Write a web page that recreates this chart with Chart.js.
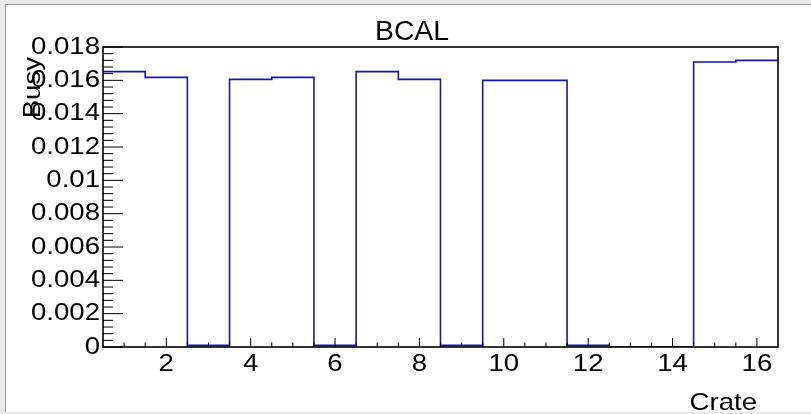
<!DOCTYPE html>
<html>
<head>
<meta charset="utf-8">
<script src="https://cdn.jsdelivr.net/npm/chart.js@4.4.0/dist/chart.umd.min.js"></script>
<style>
  html, body { margin: 0; padding: 0; background: #e9e9e9; width: 811px; height: 414px; overflow: hidden; }
  #box { position: absolute; left: 5px; top: 4px; width: 806px; height: 407px; background: #fff;
         border-left: 1px solid #9c9c9c; border-top: 1px solid #9c9c9c; }
  canvas { display: block; }
</style>
</head>
<body>
<div id="box"><canvas id="myChart" width="806" height="407"></canvas></div>
<script>
// busy fraction per crate (bins centred on 1..16)
const crates = [1, 2, 3, 4, 5, 6, 7, 8, 9, 10, 11, 12, 13, 14, 15, 16];
const busy = [0.01652, 0.01618, 0.0001, 0.01606, 0.01618, 0.0001, 0.01652, 0.01606,
              0.0001, 0.0160, 0.0160, 0.0001, 0, 0, 0.01710, 0.01720];
const xTicks = [2, 4, 6, 8, 10, 12, 14, 16];
const yTicks = [0, 0.002, 0.004, 0.006, 0.008, 0.01, 0.012, 0.014, 0.016, 0.018];

const FONT = '"Liberation Sans", Arial, Helvetica, sans-serif';
const STRETCH = 1.15; // ROOT text comes out a bit wide

// step outline: each bin starts at crate - 0.5, last one closes at 16.5
const steps = crates.map((c, i) => ({x: c - 0.5, y: busy[i]}));
steps.push({x: crates[crates.length - 1] + 0.5, y: busy[busy.length - 1]});

function wideText(ctx, str, x, y, align, base, sx, rot) {
  ctx.save();
  ctx.translate(x, y);
  if (rot) ctx.rotate(rot);
  ctx.scale(sx, 1);
  ctx.textAlign = align;
  ctx.textBaseline = base;
  ctx.fillText(str, 0, 0);
  ctx.restore();
}

const rootFrame = {
  id: "rootFrame",
  afterDatasetsDraw(chart) {
    const {ctx, chartArea: a, scales: {x, y}} = chart;
    ctx.save();
    ctx.strokeStyle = "#000";
    ctx.lineWidth = 1;
    ctx.beginPath();
    // y ticks, inward, 5 subdivisions
    for (let i = 0; i < yTicks.length; i++) {
      const py = y.getPixelForValue(yTicks[i]);
      ctx.moveTo(a.left, py);
      ctx.lineTo(a.left + 20, py);
      if (i < yTicks.length - 1) {
        const step = (yTicks[i + 1] - yTicks[i]) / 5;
        for (let k = 1; k < 5; k++) {
          const pm = y.getPixelForValue(yTicks[i] + k * step);
          ctx.moveTo(a.left, pm);
          ctx.lineTo(a.left + 10, pm);
        }
      }
    }
    // x ticks, major every 2, minor every 0.5
    for (let v = 1; v <= 16; v += 0.5) {
      const px = x.getPixelForValue(v);
      const len = xTicks.includes(v) ? 9 : 4.5;
      ctx.moveTo(px, a.bottom);
      ctx.lineTo(px, a.bottom - len);
    }
    ctx.stroke();
    ctx.lineWidth = 1.6;
    ctx.strokeRect(a.left, a.top, a.right - a.left, a.bottom - a.top);

    ctx.fillStyle = "#000";
    ctx.font = "24px " + FONT;
    yTicks.forEach((v) => {
      wideText(ctx, String(parseFloat(v.toFixed(3))), a.left - 3, y.getPixelForValue(v), "right", "middle", STRETCH);
    });
    xTicks.forEach((v) => {
      wideText(ctx, String(v), x.getPixelForValue(v), a.bottom + 24, "center", "alphabetic", STRETCH);
    });
    wideText(ctx, "Crate", a.right - 21, 405, "right", "alphabetic", STRETCH);
    wideText(ctx, "Busy", 34, a.top + 10, "right", "alphabetic", STRETCH, -Math.PI / 2);

    ctx.font = "27px " + FONT;
    wideText(ctx, "BCAL", 406, 35, "center", "alphabetic", 1.05);
    ctx.restore();
  }
};

new Chart(document.getElementById("myChart"), {
  type: "line",
  data: {
    datasets: [
      {
        label: "Busy",
        data: steps,
        stepped: "before",
        borderColor: "#1515b0",
        borderWidth: 1.6,
        pointRadius: 0,
        fill: false,
      },
    ],
  },
  options: {
    responsive: false,
    animation: false,
    devicePixelRatio: 1,
    layout: {padding: {left: 0, right: 34, top: 42, bottom: 0}},
    plugins: {
      legend: {display: false},
      tooltip: {enabled: false},
      title: {display: false},
    },
    scales: {
      x: {
        type: "linear",
        min: 0.5,
        max: 16.5,
        afterBuildTicks: (s) => { s.ticks = xTicks.map((v) => ({value: v})); },
        afterFit: (s) => { s.height = 65; },
        grid: {display: false, drawTicks: false},
        border: {display: false},
        ticks: {display: false},
      },
      y: {
        min: 0,
        max: 0.018,
        afterBuildTicks: (s) => { s.ticks = yTicks.map((v) => ({value: v})); },
        afterFit: (s) => { s.width = 97; },
        grid: {display: false, drawTicks: false},
        border: {display: false},
        ticks: {display: false},
      },
    },
  },
  plugins: [rootFrame],
});
</script>
</body>
</html>
